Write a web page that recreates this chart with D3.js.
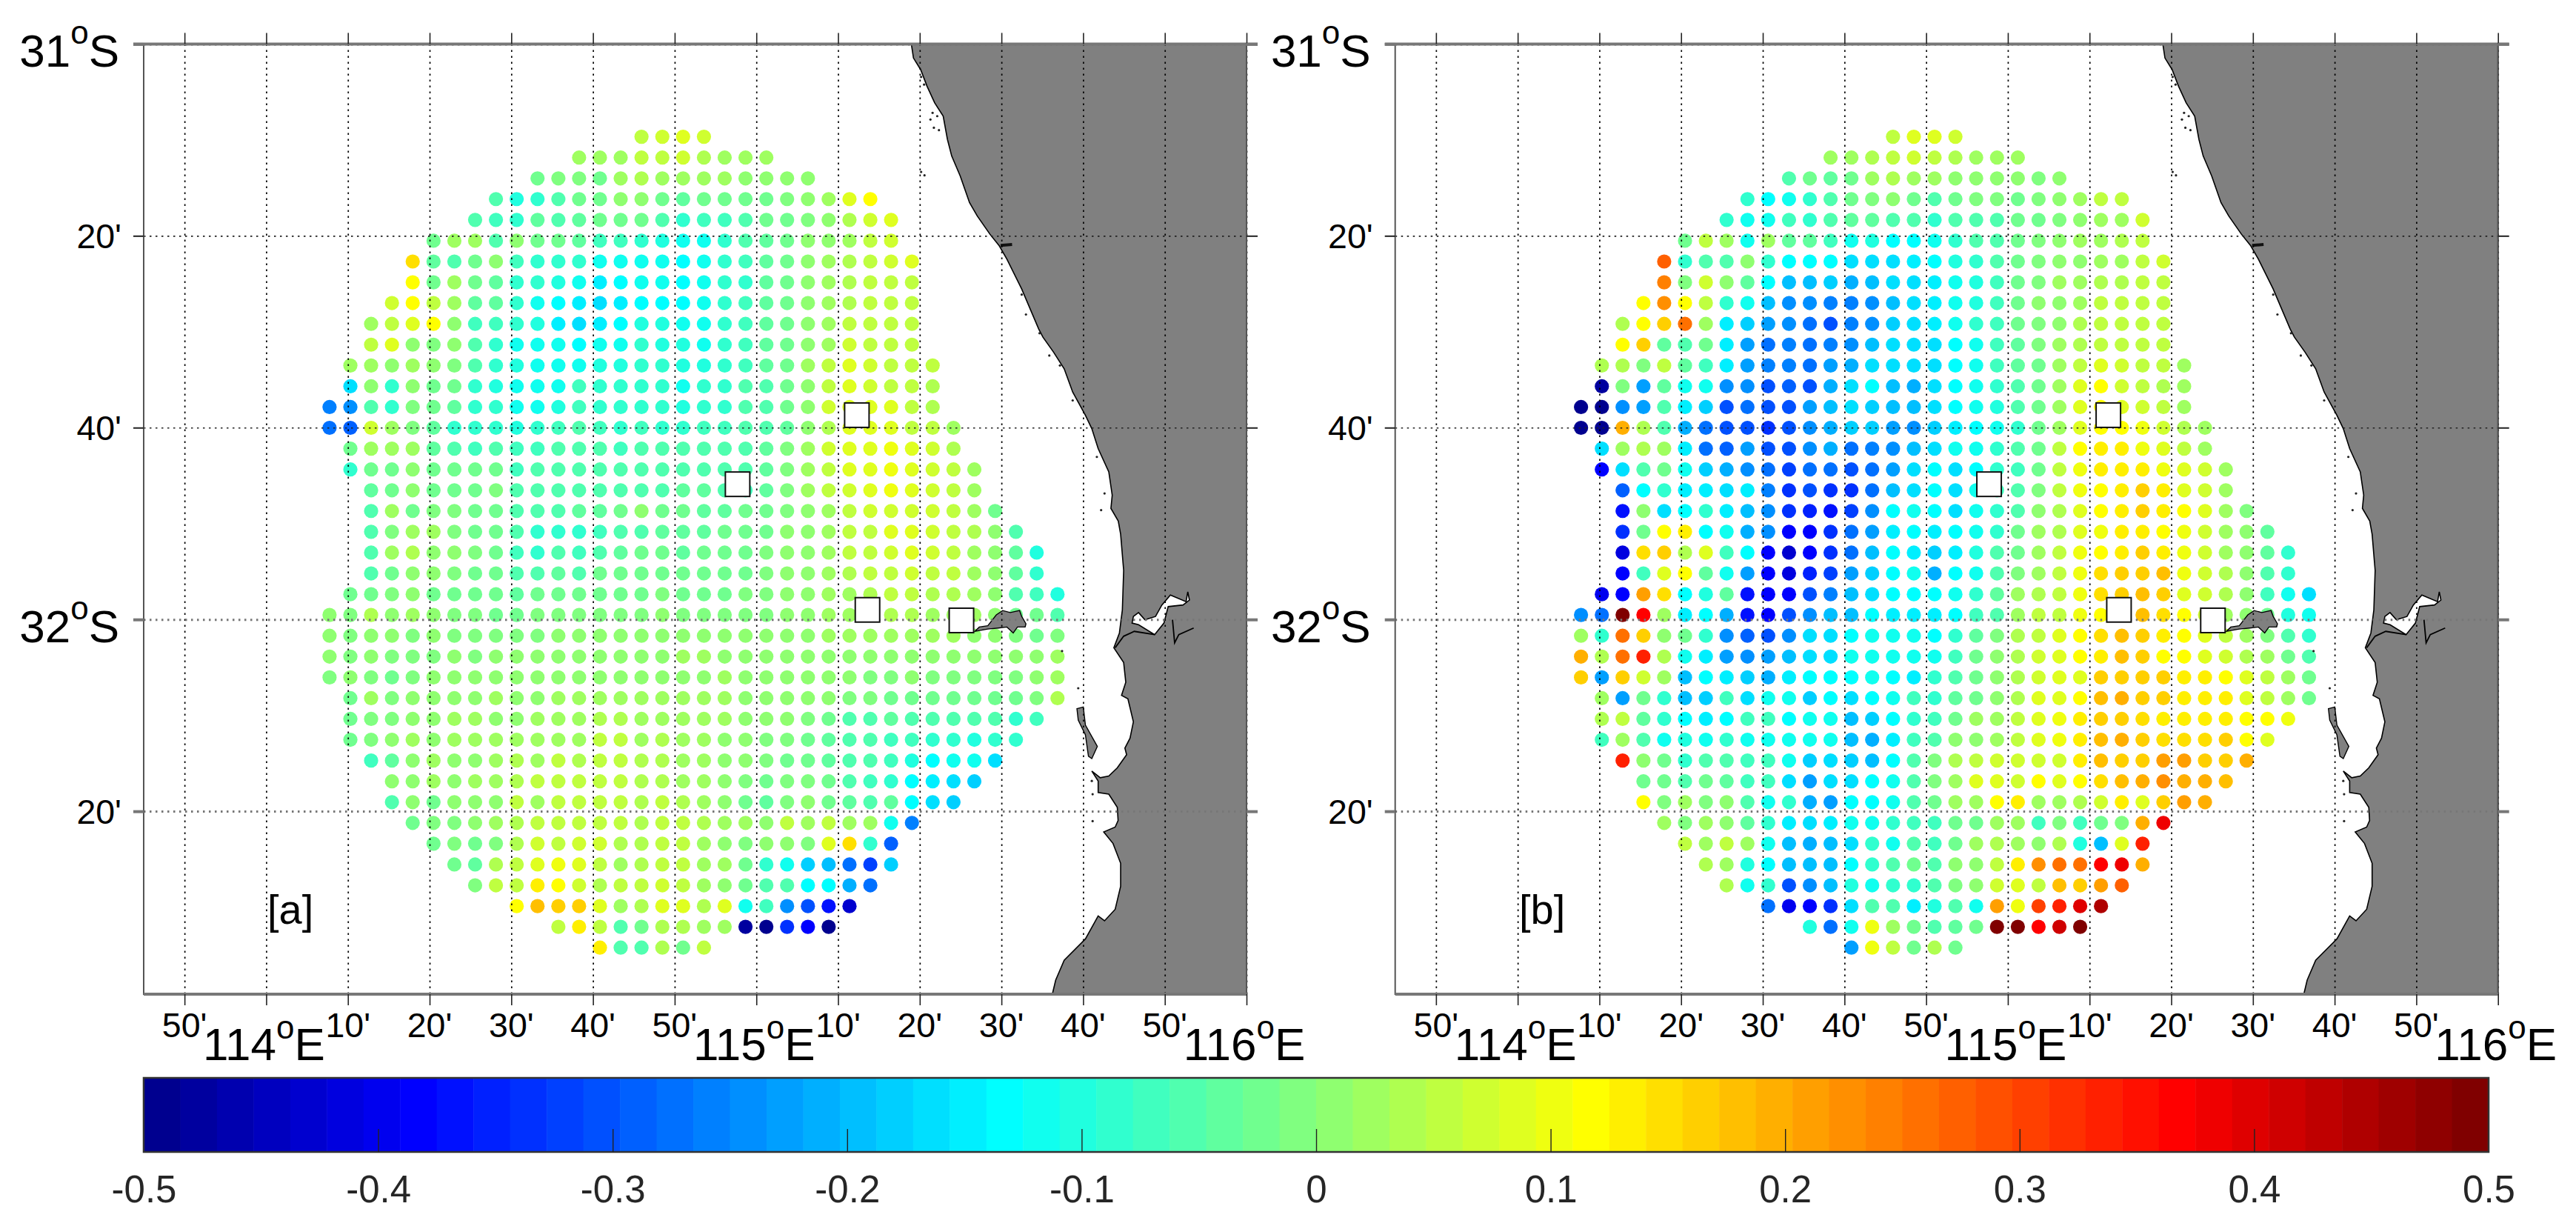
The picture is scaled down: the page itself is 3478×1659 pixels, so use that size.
<!DOCTYPE html>
<html>
<head>
<meta charset="utf-8">
<script src="https://cdn.jsdelivr.net/npm/d3@7"></script>
<style>
body { margin: 0; background: #fff; }
text { font-family: "Liberation Sans", Arial, sans-serif; }
</style>
</head>
<body>
<svg id="chart" width="3478" height="1659"></svg>
<script>
// all map positions are in arc minutes: lon east of 114E, lat south of 31S
var lonGrid = [7.75, 10.30, 12.84, 15.39, 17.93, 20.48, 23.03, 25.57, 28.12, 30.66, 33.21, 35.76, 38.30, 40.85, 43.39, 45.94, 48.49, 51.03,
    53.58, 56.12, 58.67, 61.22, 63.76, 66.31, 68.85, 71.40, 73.95, 76.49, 79.04, 81.58, 84.13, 86.68, 89.22, 91.77, 94.31, 96.86]
var latGrid = [9.67, 11.84, 14.01, 16.17, 18.34, 20.51, 22.68, 24.85, 27.01, 29.18, 31.35, 33.52, 35.69, 37.85, 40.02, 42.19, 44.36, 46.53, 48.69, 50.86,
    53.03, 55.20, 57.37, 59.53, 61.70, 63.87, 66.04, 68.21, 70.37, 72.54, 74.71, 76.88, 79.05, 81.21, 83.38, 85.55, 87.72, 89.89, 92.05, 94.22]

// first occupied column of each row
var rowStart = [15, 12, 10, 8, 7, 5, 4, 4, 3, 2, 2, 1, 1, 0, 0, 1, 1, 2, 2, 2, 2, 2, 1, 0, 0, 0, 0, 1, 1, 1, 2, 3, 3, 4, 5, 6, 7, 9, 11, 13]

// values, in hundredths
var valuesA = [
    [6, 7, 8, 7],
    [2, 3, 3, 5, 6, 7, 4, 2, 3, 2],
    [-3, -1, -1, -2, 3, 4, 3, 2, 2, 2, 1, 0, 0, 1],
    [-5, -10, -8, -6, -3, -3, 0, 1, -2, -4, -3, -3, -2, -2, -1, 0, 3, 8, 11],
    [-5, -7, -9, -4, -5, -4, -3, -3, -3, -6, -8, -7, -7, -5, -3, -3, -1, 1, 4, 7, 9],
    [-2, 3, 3, -5, 1, -3, -3, -4, -7, -7, -9, -10, -11, -11, -8, -6, -4, -2, 0, 1, 3, 6, 7],
    [15, -4, -5, -2, 0, -7, -9, -9, -9, -11, -11, -12, -11, -13, -11, -9, -7, -4, -2, 1, 2, 4, 5, 7, 9],
    [12, -2, 2, -2, -4, -8, -9, -10, -12, -15, -13, -12, -12, -13, -11, -9, -8, -4, -3, 0, 2, 4, 5, 6, 6],
    [7, 11, 6, 2, -4, -4, -9, -12, -13, -15, -16, -15, -13, -14, -13, -11, -9, -7, -4, -2, 0, 2, 4, 5, 6, 6],
    [2, 5, 9, 12, 0, -7, -7, -9, -10, -15, -17, -15, -13, -10, -10, -11, -11, -9, -7, -4, -2, 0, 3, 5, 5, 6, 5],
    [6, 9, 1, -1, 0, -6, -9, -11, -11, -12, -13, -11, -11, -9, -10, -10, -11, -9, -7, -4, -2, 1, 3, 7, 5, 6, 5],
    [2, 2, 1, 2, 0, -1, -6, -8, -10, -11, -11, -12, -10, -10, -9, -9, -10, -10, -9, -7, -4, -2, 2, 5, 9, 7, 6, 5, 5],
    [-16, 1, -8, 0, -3, -2, -9, -10, -12, -12, -11, -7, -8, -9, -8, -9, -11, -9, -8, -6, -6, -2, 1, 6, 9, 7, 6, 5, 4],
    [-26, -25, -6, -8, -1, -3, -4, -9, -9, -11, -12, -10, -7, -8, -9, -8, -9, -10, -9, -8, -6, -5, -2, 1, 7, 9, 8, 8, 5, 4],
    [-28, -29, 7, 2, -1, -4, -8, -8, -9, -10, -8, -7, -5, -7, -8, -7, -8, -8, -7, -7, -6, -6, -4, 0, 4, 8, 8, 8, 6, 5, 3],
    [-2, 2, 2, 3, -4, -6, -7, -6, -7, -7, -6, -5, -6, -7, -6, -6, -6, -6, -5, -5, -4, -1, 3, 7, 9, 9, 10, 8, 7, 4],
    [-9, -3, -2, 1, -3, -2, -3, -3, -7, -6, -5, -5, -5, -5, -5, -6, -5, -5, -5, -5, -4, -1, 2, 5, 8, 9, 10, 8, 7, 5, 2],
    [-4, -3, 0, -2, -2, -2, -1, -5, -6, -5, -5, -6, -5, -5, -6, -4, -4, -5, -7, -4, -1, 2, 5, 7, 8, 10, 8, 7, 5, 3],
    [-5, 3, -3, -1, -1, -2, -2, -5, -5, -5, -4, -4, -3, 0, -3, -3, -4, -4, -3, -3, -1, 1, 3, 6, 7, 7, 7, 7, 5, 3, -3],
    [-5, -1, 3, 2, -1, -2, -3, -5, -8, -8, -9, -7, -6, -5, -4, -4, -4, -3, -3, -2, 0, 1, 3, 5, 6, 8, 9, 7, 5, 4, 1, -5],
    [-6, 3, 4, 1, 1, -1, -3, -7, -9, -6, -7, -5, -4, -3, -3, -4, -3, -3, -3, -1, 0, 1, 3, 5, 6, 7, 8, 7, 5, 3, 1, -4, -10],
    [-5, -2, 1, 1, -1, -2, -3, -6, -5, -4, -5, -2, -3, -2, -2, -3, -3, -2, -2, -1, 0, 1, 3, 4, 5, 6, 7, 6, 5, 3, 1, -4, -8],
    [-3, -2, -1, 1, -2, -2, -2, -3, -4, -3, -2, -3, -3, -2, -2, -1, -2, -2, -2, -1, -1, 0, 1, 2, 3, 4, 5, 5, 4, 4, 3, 1, -5, -7, -10],
    [1, -1, 4, 1, 2, 0, -1, -1, -2, -2, -1, -1, -1, -1, -1, -1, 0, -1, -1, -1, -1, -1, 0, 1, 2, 3, 4, 4, 4, 3, 3, 2, 1, -2, -3, -6],
    [1, -1, 1, 0, -1, 0, -1, -1, -1, -1, -1, 0, 0, 0, 0, 0, 1, 0, 0, 0, 0, 0, 1, 1, 2, 2, 2, 2, 2, 2, 2, 1, 1, -1, -2, -1],
    [0, -1, 0, -1, -1, -1, 1, -1, 0, 1, 0, 0, 0, 0, 0, 1, 1, 2, 2, 1, 1, 1, 1, 1, 1, 1, 0, 1, 1, 1, 1, 1, 0, 0, 1, 2],
    [-1, 0, -1, -2, -1, 0, 0, 0, 1, 1, 1, 1, 1, 1, 1, 1, 1, 1, 1, 2, 1, 1, 1, 1, 1, 0, -1, -1, 0, -1, -1, -1, -1, -1, 0, 3],
    [-2, 2, -1, 0, 1, 0, 0, 2, 1, 1, 3, 2, 3, 2, 2, 2, 2, 2, 2, 1, 0, 1, 1, 0, -1, -1, -2, -2, -3, -3, -3, -3, -3, -1, 4],
    [-3, -1, -1, 0, 1, 2, 2, 1, 1, 3, 3, 3, 4, 4, 3, 3, 3, 2, 2, 1, 0, 1, -1, -2, -5, -5, -4, -5, -5, -6, -6, -6, -8, -7],
    [-2, -1, 0, 2, 1, 2, 2, 3, 3, 3, 3, 3, 5, 5, 3, 4, 3, 2, 1, 0, -1, -1, -3, -4, -6, -6, -7, -7, -9, -9, -10, -9, -8],
    [-7, -4, 0, 3, 1, 1, 2, 4, 3, 5, 4, 5, 5, 4, 4, 3, 2, 1, 0, -1, -2, -2, -4, -6, -6, -7, -10, -13, -12, -12, -16],
    [0, 1, 2, 1, 2, 3, 4, 5, 6, 5, 6, 5, 4, 4, 3, 2, 1, -1, -2, -1, -1, -3, -6, -7, -8, -14, -15, -16, -18],
    [-5, 0, -2, 0, 0, 1, 5, 3, 6, 6, 6, 6, 4, 5, 4, 2, 1, -2, -4, -1, 0, -2, -4, -6, -4, -13, -17, -18],
    [-2, -1, -1, 1, 2, 4, 6, 5, 6, 5, 6, 4, 5, 5, 4, 3, 2, 1, 5, 2, 5, 2, 3, -12, -26],
    [-3, -1, -3, -1, 4, 7, 5, 7, 7, 4, 4, 5, 5, 3, 1, -1, 1, 0, -1, 8, 15, -8, -29],
    [-2, -4, 4, 6, 8, 10, 9, 6, 3, 4, 6, 5, 2, 2, -2, -8, -12, -18, -20, -28, -32, -18],
    [-1, 6, 5, 14, 11, 7, 4, 5, 6, 7, 5, 3, 1, -3, -6, -5, -13, -14, -21, -28],
    [12, 18, 16, 17, 9, 2, 4, 9, 9, 4, 8, -12, -7, -25, -30, -36, -43],
    [5, 13, 6, -6, -2, 4, 4, 3, 3, -47, -49, -34, -38, -49],
    [14, -6, -5, 4, -2, 5]
]

var valuesB = [
    [5, 8, 9, 7],
    [3, 3, 4, 6, 7, 6, 4, 3, 3, 2],
    [-6, -3, -4, -2, 2, 4, 3, 2, 1, 1, 1, 0, -1, 1],
    [-8, -13, -11, -9, -5, -3, -1, 0, -3, -5, -3, -1, -1, -2, -1, 0, 2, 5, 5],
    [-8, -11, -12, -7, -8, -6, -4, -4, -5, -5, -8, -6, -5, -5, -3, -2, -1, 1, 3, 3, 7],
    [-3, 5, 3, -11, 2, -4, -4, -7, -11, -10, -13, -14, -11, -9, -6, -5, -3, -1, 1, 2, 3, 4, 6],
    [28, -9, -6, -5, 0, -9, -13, -14, -14, -17, -17, -17, -15, -13, -10, -9, -6, -3, -1, 1, 1, 3, 3, 6, 7],
    [24, -1, 7, 0, -4, -13, -19, -19, -18, -21, -19, -17, -17, -15, -12, -10, -7, -3, -1, 2, 2, 4, 4, 6, 6],
    [11, 23, 12, 5, -9, -11, -20, -25, -24, -26, -26, -24, -19, -16, -15, -12, -10, -7, -3, 0, 0, 3, 5, 5, 6, 6],
    [4, 11, 16, 25, 2, -15, -18, -22, -25, -27, -30, -26, -24, -18, -16, -15, -12, -9, -7, -3, -1, 1, 4, 6, 5, 5, 5],
    [12, 16, -4, -6, -3, -15, -23, -27, -26, -27, -26, -24, -20, -17, -17, -16, -13, -11, -7, -4, -1, 2, 4, 6, 5, 5, 5],
    [4, 4, -1, 6, -4, -7, -15, -22, -26, -26, -27, -22, -21, -16, -16, -16, -17, -14, -12, -7, -4, -2, 3, 6, 9, 7, 6, 5, 3],
    [-47, -1, -23, -4, -12, -11, -24, -25, -30, -29, -30, -21, -17, -14, -19, -21, -16, -14, -11, -8, -6, -3, 2, 8, 11, 7, 6, 4, 3],
    [-49, -49, -25, -22, -6, -15, -18, -30, -28, -31, -31, -23, -19, -16, -18, -20, -19, -16, -14, -12, -10, -6, -3, 3, 9, 11, 9, 7, 5, 3],
    [-49, -49, 20, 4, -6, -21, -27, -30, -30, -33, -30, -24, -21, -18, -18, -23, -24, -18, -15, -13, -11, -8, -3, 2, 9, 12, 11, 10, 7, 4, 3],
    [-17, 2, 4, 2, -15, -27, -29, -22, -31, -30, -25, -21, -27, -26, -25, -19, -17, -12, -12, -9, -6, -3, 5, 11, 13, 13, 10, 9, 6, 3],
    [-38, -17, -5, -3, -12, -18, -21, -24, -27, -32, -28, -27, -30, -27, -22, -17, -14, -16, -13, -9, -7, -3, 5, 10, 13, 13, 13, 10, 9, 7, 3],
    [-29, -14, -9, -15, -15, -16, -15, -26, -34, -30, -33, -33, -28, -20, -16, -13, -16, -11, -7, -5, -1, 6, 10, 12, 13, 16, 13, 9, 7, 3],
    [-36, 1, -17, -14, -9, -15, -19, -25, -33, -35, -36, -32, -25, -14, -12, -13, -16, -12, -9, -6, 0, 4, 9, 11, 13, 16, 13, 11, 8, 3, -1],
    [-33, -3, 12, 14, -14, -11, -21, -25, -38, -38, -34, -27, -22, -15, -14, -15, -14, -12, -9, -3, 2, 4, 8, 10, 13, 14, 12, 10, 7, 3, 1, -4],
    [-42, 15, 16, 4, 9, -7, -13, -38, -43, -38, -33, -28, -19, -13, -15, -18, -15, -10, -6, -2, 2, 6, 10, 12, 14, 16, 14, 10, 7, 3, 1, -4, -8],
    [-39, -7, 9, 12, -4, -12, -23, -38, -41, -35, -32, -22, -18, -13, -12, -21, -13, -11, -6, -1, 2, 6, 10, 15, 16, 17, 18, 10, 7, 4, 1, -5, -9],
    [-40, -38, 21, 15, -14, -10, -4, -36, -39, -38, -31, -26, -20, -16, -13, -13, -13, -12, -9, -4, 2, 4, 6, 10, 15, 16, 18, 17, 9, 7, 4, 0, -7, -11, -17],
    [-25, -27, 49, 37, 3, -15, -13, -21, -37, -39, -31, -25, -19, -19, -14, -15, -15, -15, -13, -7, -5, 3, 6, 6, 10, 12, 15, 18, 15, 12, 7, 3, 0, -2, -10, -12],
    [3, -8, 25, 16, 1, -3, -9, -25, -29, -30, -25, -17, -17, -14, -12, -12, -12, -13, -8, -4, -1, 4, 6, 8, 11, 15, 18, 17, 14, 12, 8, 6, 2, -1, -5, -8],
    [20, 4, 25, 33, 4, -12, -15, -23, -24, -23, -19, -17, -16, -12, -12, -12, -12, -12, -7, -3, 0, 4, 7, 8, 11, 14, 18, 17, 12, 12, 9, 7, 4, 2, -3, -5],
    [16, -22, 17, 7, 3, -19, -13, -15, -18, -21, -15, -13, -13, -13, -12, -13, -15, -9, -6, -3, 0, 4, 7, 8, 9, 16, 17, 17, 16, 13, 13, 12, 9, 5, 2, -3],
    [3, -23, -3, -9, -19, -18, -7, -17, -12, -12, -18, -13, -17, -13, -11, -7, -8, -4, -2, 1, 4, 8, 8, 12, 18, 19, 17, 16, 14, 14, 13, 9, 6, 2, -2],
    [4, 6, -4, -9, -13, -15, -13, -7, -7, -13, -12, -11, -20, -18, -13, -8, -7, -2, 2, 3, 5, 9, 10, 13, 17, 17, 15, 13, 14, 14, 13, 12, 12, 10],
    [-7, 3, -5, -12, -10, -11, -8, -12, -12, -12, -12, -11, -19, -21, -15, -7, -6, 0, 1, 2, 6, 9, 10, 14, 18, 19, 17, 15, 15, 15, 16, 12, 8],
    [33, 1, -2, -8, -5, -5, -7, -7, -12, -18, -16, -18, -19, -14, -6, -1, 4, 6, 7, 7, 7, 7, 14, 18, 17, 17, 21, 21, 17, 16, 20],
    [-2, -3, -6, -2, -4, -7, -7, -16, -22, -17, -17, -14, -12, -6, -1, 3, 8, 8, 7, 11, 9, 12, 15, 18, 20, 23, 20, 20, 18],
    [12, -1, 2, -1, 0, -5, -12, -9, -21, -22, -13, -14, -12, -6, -2, 2, 2, 11, 13, 3, 2, 4, 7, 13, 8, 17, 21, 19],
    [3, -1, 3, 0, -4, -8, -15, -17, -15, -12, -12, -9, -7, -7, -3, -2, 2, 3, -7, -1, -7, -2, -1, 19, 38],
    [6, 3, 5, 2, -12, -19, -21, -19, -17, -9, -12, -5, -7, -2, 2, 4, 3, 1, 4, -10, -19, 9, 34],
    [4, 3, -10, -13, -20, -20, -19, -13, -9, -5, -3, -5, 0, 1, 6, 14, 22, 25, 26, 37, 38, 19],
    [4, -12, -9, -30, -24, -20, -10, -12, -9, -8, -6, -1, 0, 7, 9, 6, 18, 17, 21, 28],
    [-28, -40, -38, -33, -17, -5, -5, -15, -10, -5, -11, 21, 10, 31, 33, 40, 44],
    [-10, -27, -12, 10, 2, -3, -6, -4, -2, 49, 49, 37, 41, 49],
    [-23, 10, 5, -3, 4, -3]
]

var lonTicks = [-10, 0, 10, 20, 30, 40, 50, 60, 70, 80, 90, 100, 110, 120]
var lonLabels = ["50'", ['114', 'E'], "10'", "20'", "30'", "40'", "50'", ['115', 'E'], "10'", "20'", "30'", "40'", "50'", ['116', 'E']]
var latTicks = [0, 20, 40, 60, 80]
var latLabels = [['31', 'S'], "20'", "40'", ['32', 'S'], "20'"]
var boldLats = [0, 60, 80]
var barTicks = [-0.5, -0.4, -0.3, -0.2, -0.1, 0, 0.1, 0.2, 0.3, 0.4, 0.5]

var sites = [[72.3, 38.7], [57.7, 45.9], [73.6, 59.0], [85.1, 60.1]]

var coast = [[78.97, 0], [79.23, 1.46], [80.11, 2.67], [80.89, 4.40], [81.83, 6.14], [82.87, 7.52], [83.39, 9.95], [83.91, 11.68], [84.95, 13.76],
    [86.09, 16.53], [87.03, 17.92], [88.59, 19.83], [89.73, 21.04], [90.67, 22.43], [92.48, 25.55], [93.52, 27.63], [94.56, 29.71], [95.08, 30.57],
    [96.38, 32.13], [97.68, 33.86], [98.72, 36.29], [100.28, 38.72], [101.06, 40.10], [101.84, 42.18], [103.14, 44.61], [103.56, 47.04], [103.40, 48.42],
    [104.3, 49.74], [104.59, 51.11], [104.96, 54.89], [104.80, 59.01], [104.44, 61.41], [103.76, 62.95], [104.96, 64.49], [105.22, 66.55], [104.70, 67.92],
    [105.48, 68.27], [106.15, 70.67], [105.74, 72.38], [105.11, 73.41], [105.32, 74.10], [104.18, 75.47], [103.14, 76.33], [102.10, 76.50], [101.06, 75.81],
    [101.84, 76.84], [101.84, 78.04], [103.14, 78.22], [104.18, 79.59], [104.28, 80.96], [103.92, 81.65], [102.52, 82.16], [103.66, 83.36], [104.59, 85.42],
    [104.59, 87.82], [103.92, 90.22], [102.62, 91.42], [101.84, 90.91], [100.28, 93.31], [97.68, 95.54], [96.64, 97.60], [96.23, 99.07], [120, 99.07], [120, 0]]
var estuary = [[106.15, 59.69], [106.78, 59.28], [107.56, 60.03], [108.86, 59.69], [109.64, 58.49], [110.68, 57.46], [112.60, 58.15], [112.81, 57.12], [113.01, 57.98],
    [112.23, 58.49], [110.41, 58.66], [109.89, 60.38], [108.75, 61.58], [106.78, 60.55], [105.99, 60.38]]
var rottnest = [[86.77, 61.23], [87.29, 60.79], [88.33, 60.65], [89.37, 59.52], [90.15, 59.07], [91.08, 59.28], [92.22, 59.07], [92.48, 59.69], [93.0, 60.45], [92.9, 60.79],
    [91.96, 60.79], [91.44, 61.41], [90.67, 60.79], [89.63, 60.89], [88.33, 61.0]]
var garden = [[99.24, 69.3], [100.02, 69.13], [100.28, 71.01], [101.74, 73.24], [101.06, 74.51], [100.65, 74.27], [100.28, 72.04], [99.4, 70.5]]
var riverLines = [[[108.75, 61.58], [106.26, 61.24], [104.96, 61.75], [103.92, 62.95]], [[110.94, 60.03], [111.2, 62.44], [111.71, 61.58], [113.53, 60.89]]]
var jetty = [[89.9, 21.0], [91.3, 20.9]]
var islets = [[81.57, 7.18], [81.31, 7.87], [81.73, 8.73], [82.35, 8.98], [82.14, 7.52], [80.17, 3.43], [80.53, 4.23], [80.17, 13.34], [80.58, 13.69], [92.48, 26.13], [93.0, 28.2],
    [94.66, 30.16], [95.86, 32.48], [97.16, 33.52], [98.72, 37.16], [101.68, 43.05], [102.62, 46.86], [102.2, 48.6], [99.4, 67.17], [101.06, 76.84], [101.16, 78.22], [101.16, 81.03], [97.42, 63.29]]

// jet(64) like the matlab colorbar
var jet = d3.range(64).map(function (i) {
    var v = (i + 1) / 64
    var c = function (a, b) { return Math.round(255 * Math.max(0, Math.min(1, a, b))) }
    return d3.rgb(c(4 * v - 1.5, 4.5 - 4 * v), c(4 * v - 0.5, 3.5 - 4 * v), c(4 * v + 0.5, 2.5 - 4 * v)).formatHex()
})
var colour = d3.scaleQuantize().domain([-0.5, 0.5]).range(jet)

var svg = d3.select('#chart')
var top_ = 59.4, bottom_ = 1342, panelW = 1489

function degLabel(sel, pair, supDy) {
    sel.text(null)
    sel.append('tspan').text(pair[0])
    sel.append('tspan').text('o').attr('font-size', 44).attr('dy', -supDy)
    sel.append('tspan').text(pair[1]).attr('dy', supDy)
}

function drawPanel(left, values, tag, tagX) {
    var x = d3.scaleLinear().domain([-15, 120]).range([left, left + panelW])
    var y = d3.scaleLinear().domain([0, 99.07]).range([top_, bottom_])
    var g = svg.append('g')
    var line = d3.line().x(function (d) { return x(d[0]) }).y(function (d) { return y(d[1]) })

    // the dots
    var dots = []
    values.forEach(function (row, r) {
        row.forEach(function (v, i) {
            dots.push({ lon: lonGrid[rowStart[r] + i], lat: latGrid[r], v: v / 100 })
        })
    })
    g.selectAll('circle.dot')
        .data(dots)
        .enter()
        .append('circle')
        .attr('class', 'dot')
        .attr('cx', function (d) { return x(d.lon) })
        .attr('cy', function (d) { return y(d.lat) })
        .attr('r', 9.6)
        .attr('fill', function (d) { return colour(d.v) })

    // land
    g.append('path').attr('d', line(coast) + 'Z').attr('fill', '#808080').attr('stroke', '#000').attr('stroke-width', 1.6)
    g.append('path').attr('d', line(estuary) + 'Z').attr('fill', '#fff').attr('stroke', '#000').attr('stroke-width', 1.6)
    g.append('path').attr('d', line(rottnest) + 'Z').attr('fill', '#808080').attr('stroke', '#000').attr('stroke-width', 1.4)
    g.append('path').attr('d', line(garden) + 'Z').attr('fill', '#808080').attr('stroke', '#000').attr('stroke-width', 1.4)
    riverLines.forEach(function (r) {
        g.append('path').attr('d', line(r)).attr('fill', 'none').attr('stroke', '#000').attr('stroke-width', 1.8)
    })
    g.append('path').attr('d', line(jetty)).attr('stroke', '#111').attr('stroke-width', 4)
    g.selectAll('circle.islet')
        .data(islets)
        .enter()
        .append('circle')
        .attr('class', 'islet')
        .attr('cx', function (d) { return x(d[0]) })
        .attr('cy', function (d) { return y(d[1]) })
        .attr('r', 1.6)
        .attr('fill', '#222')

    // dotted grid
    var gridX = g.append('g').attr('transform', 'translate(0,' + bottom_ + ')')
        .call(d3.axisBottom(x).tickValues(lonTicks).tickSize(-(bottom_ - top_)).tickFormat(''))
    var gridY = g.append('g').attr('transform', 'translate(' + left + ',0)')
        .call(d3.axisLeft(y).tickValues(latTicks).tickSize(-panelW).tickFormat(''))
    gridX.select('.domain').remove()
    gridY.select('.domain').remove()
    gridX.selectAll('line').attr('stroke', '#000').attr('stroke-width', 1.7).attr('stroke-dasharray', '2.5,5.5')
    gridY.selectAll('line')
        .attr('stroke', function (d) { return boldLats.indexOf(d) >= 0 ? '#777' : '#222' })
        .attr('stroke-width', function (d) { return boldLats.indexOf(d) >= 0 ? 3 : 1.6 })
        .attr('stroke-dasharray', '2.5,5.5')

    // frame
    g.append('rect').attr('x', left).attr('y', top_).attr('width', panelW).attr('height', bottom_ - top_)
        .attr('fill', 'none').attr('stroke', '#555').attr('stroke-width', 2)
    g.append('line').attr('x1', left - 14).attr('x2', left + panelW + 15).attr('y1', top_).attr('y2', top_).attr('stroke', '#777').attr('stroke-width', 4)
    g.append('line').attr('x1', left).attr('x2', left + panelW).attr('y1', bottom_).attr('y2', bottom_).attr('stroke', '#777').attr('stroke-width', 4)

    // ticks on all four sides
    var bottomAxis = g.append('g').attr('transform', 'translate(0,' + bottom_ + ')')
        .call(d3.axisBottom(x).tickValues(lonTicks).tickSize(15).tickFormat(''))
    var topAxis = g.append('g').attr('transform', 'translate(0,' + top_ + ')')
        .call(d3.axisTop(x).tickValues(lonTicks).tickSize(15).tickFormat(''))
    var leftAxis = g.append('g').attr('transform', 'translate(' + left + ',0)')
        .call(d3.axisLeft(y).tickValues(latTicks).tickSize(14).tickFormat(''))
    var rightAxis = g.append('g').attr('transform', 'translate(' + (left + panelW) + ',0)')
        .call(d3.axisRight(y).tickValues(latTicks).tickSize(15).tickFormat(''))
    ;[bottomAxis, topAxis, leftAxis, rightAxis].forEach(function (a) {
        a.select('.domain').remove()
        a.selectAll('line').attr('stroke', '#222').attr('stroke-width', 1.6)
    })
    leftAxis.selectAll('line').attr('stroke', function (d) { return boldLats.indexOf(d) >= 0 ? '#777' : '#222' })
        .attr('stroke-width', function (d) { return boldLats.indexOf(d) >= 0 ? 4 : 2 })
    rightAxis.selectAll('line').attr('stroke', function (d) { return boldLats.indexOf(d) >= 0 ? '#777' : '#222' })
        .attr('stroke-width', function (d) { return boldLats.indexOf(d) >= 0 ? 4 : 2 })

    // labels
    lonTicks.forEach(function (t, i) {
        var lab = lonLabels[i]
        var el = g.append('text').attr('text-anchor', 'middle').attr('fill', '#000')
        if (typeof lab === 'string') {
            el.attr('x', x(t)).attr('y', 1400).attr('font-size', 46.5).text(lab)
        } else {
            el.attr('x', x(t) - 3).attr('y', 1431).attr('font-size', 62).call(degLabel, lab, 29)
        }
    })
    latTicks.forEach(function (t, i) {
        var lab = latLabels[i]
        var el = g.append('text').attr('text-anchor', 'end').attr('fill', '#000')
        if (typeof lab === 'string') {
            el.attr('x', left - 30).attr('y', y(t) + 17).attr('font-size', 46.5).text(lab)
        } else {
            el.attr('x', left - 33).attr('y', y(t) + 31).attr('font-size', 62).call(degLabel, lab, 31)
        }
    })
    g.append('text').attr('x', tagX).attr('y', 1247).attr('font-size', 56).attr('fill', '#000').text(tag)

    // sample sites
    g.selectAll('rect.site')
        .data(sites)
        .enter()
        .append('rect')
        .attr('class', 'site')
        .attr('x', function (d) { return x(d[0]) - 16.5 })
        .attr('y', function (d) { return y(d[1]) - 16.5 })
        .attr('width', 33)
        .attr('height', 33)
        .attr('fill', '#fff')
        .attr('stroke', '#111')
        .attr('stroke-width', 2)
}

drawPanel(194, valuesA, '[a]', 361)
drawPanel(1883.7, valuesB, '[b]', 2051)

// colorbar
var barX = d3.scaleLinear().domain([-0.5, 0.5]).range([194, 3360])
var barTop = 1455, barBottom = 1555
var bar = svg.append('g')
bar.selectAll('rect.lev')
    .data(jet)
    .enter()
    .append('rect')
    .attr('class', 'lev')
    .attr('x', function (d) { return colour.invertExtent(d).map(barX)[0] })
    .attr('width', function (d) { var e = colour.invertExtent(d).map(barX); return e[1] - e[0] + 0.5 })
    .attr('y', barTop)
    .attr('height', barBottom - barTop)
    .attr('fill', function (d) { return d })
bar.append('rect').attr('x', 194).attr('y', barTop).attr('width', 3166).attr('height', barBottom - barTop)
    .attr('fill', 'none').attr('stroke', '#333').attr('stroke-width', 2.5)
// plain hyphen on the negatives, as in the original
var barAxis = bar.append('g').attr('transform', 'translate(0,' + barBottom + ')')
    .call(d3.axisBottom(barX).tickValues(barTicks).tickSize(0).tickPadding(32).tickFormat(function (d) { return String(d) }))
barAxis.select('.domain').remove()
barAxis.selectAll('text').attr('font-size', 51).attr('fill', '#262626').attr('font-family', '"Liberation Sans", Arial, sans-serif').attr('dy', '0.71em')
barAxis.selectAll('line').filter(function (d) { return d > -0.5 && d < 0.5 })
    .attr('y2', -31).attr('stroke', '#222').attr('stroke-width', 1.4)
</script>
</body>
</html>
